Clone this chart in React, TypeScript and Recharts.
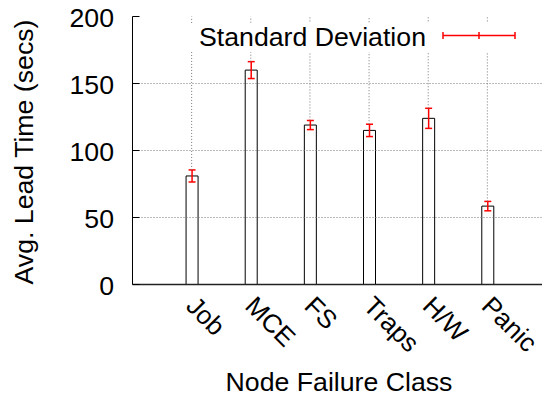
import React from 'react'
import { ComposedChart, Bar, ErrorBar, XAxis, YAxis, ReferenceLine, Legend } from 'recharts'

const categories = ['Job', 'MCE', 'FS', 'Traps', 'H/W', 'Panic']
const avgLeadTime = [81, 160, 119, 115, 124, 58.5]
const stdDeviation = [4.5, 6.3, 3.4, 4.6, 7.5, 3.5]
const yTicks = [0, 50, 100, 150, 200]

const FONT = '"Liberation Sans", Arial, Helvetica, sans-serif'
const FS = 26.7
const GRID = { stroke: '#777', strokeWidth: 1, strokeDasharray: '1 2' }
const X_MAX = 7
const Y_MAX = 200

const data = categories.map((name, i) => ({
  pos: i + 1,
  name,
  avg: avgLeadTime[i],
  sd: stdDeviation[i],
}))
const xTicks = data.map((d) => d.pos)
// inner grid rows; 0 and 200 sit on the frame
const gridRows = yTicks.slice(1, -1)

// y ticks point into the plot, labels sit to the left
const YTick = ({ x, y, payload }: any) => (
  <g>
    <line x1={x} y1={y} x2={x + 7} y2={y} stroke="#000" strokeWidth={1} />
    <text x={x - 18.5} y={y + 10.5} textAnchor="end" fontFamily={FONT} fontSize={FS} fill="#000">
      {payload.value}
    </text>
  </g>
)

// category names rotated 45 degrees under each bar
const XTick = ({ x, y, payload }: any) => {
  const ax = x - 7
  const ay = y + 23
  return (
    <text
      x={ax}
      y={ay}
      transform={`rotate(45 ${ax} ${ay})`}
      textAnchor="start"
      fontFamily={FONT}
      fontSize={26}
      fill="#000"
    >
      {categories[payload.value - 1]}
    </text>
  )
}

// mirrored ticks on the top border
const TopTick = ({ x, y }: any) => (
  <line x1={x} y1={y} x2={x} y2={y + 7} stroke="#000" strokeWidth={1} />
)

const XTitle = ({ viewBox }: any) => (
  <text
    x={viewBox.x + viewBox.width / 2 - 0.5}
    y={391}
    textAnchor="middle"
    fontFamily={FONT}
    fontSize={FS}
    fill="#000"
  >
    Node Failure Class
  </text>
)

const YTitle = ({ viewBox }: any) => {
  const cx = 33
  const cy = viewBox.y + viewBox.height / 2 + 1.5
  return (
    <text
      x={cx}
      y={cy}
      transform={`rotate(-90 ${cx} ${cy})`}
      textAnchor="middle"
      fontFamily={FONT}
      fontSize={FS}
      fill="#000"
    >
      Avg. Lead Time (secs)
    </text>
  )
}

const LegendBox = () => (
  <div style={{ position: 'relative', width: 400, height: 29, background: '#fff' }}>
    <span
      style={{
        position: 'absolute',
        right: 114,
        top: -1,
        fontFamily: FONT,
        fontSize: FS,
        lineHeight: '30px',
        whiteSpace: 'nowrap',
        color: '#000',
      }}
    >
      Standard Deviation
    </span>
    <svg width={80} height={20} style={{ position: 'absolute', left: 300, top: 3 }}>
      <g stroke="#ff0000" strokeWidth={1.5}>
        <line x1={3} y1={9.5} x2={75} y2={9.5} />
        <line x1={3} y1={6} x2={3} y2={13} />
        <line x1={39} y1={6} x2={39} y2={13} />
        <line x1={75} y1={6} x2={75} y2={13} />
      </g>
    </svg>
  </div>
)

export default function App() {
  return (
    <div
      style={{
        position: 'fixed',
        left: 0,
        top: 0,
        width: 542,
        height: 397,
        overflow: 'hidden',
        background: '#fff',
      }}
    >
      <ComposedChart
        width={547}
        height={397}
        data={data}
        margin={{ top: 16.5, right: 0.5, bottom: 0, left: 0.5 }}
      >
        <XAxis
          xAxisId="bottom"
          dataKey="pos"
          type="number"
          domain={[0, X_MAX]}
          ticks={xTicks}
          interval={0}
          height={112.5}
          tickSize={0}
          tickMargin={0}
          tickLine={false}
          axisLine={{ stroke: '#222', strokeWidth: 1.5 }}
          tick={<XTick />}
          label={<XTitle />}
        />
        <XAxis
          xAxisId="top"
          orientation="top"
          dataKey="pos"
          type="number"
          domain={[0, X_MAX]}
          ticks={xTicks}
          interval={0}
          height={0}
          tickSize={0}
          tickMargin={0}
          tickLine={false}
          axisLine={{ stroke: '#000', strokeWidth: 1 }}
          tick={<TopTick />}
        />
        <YAxis
          yAxisId="left"
          type="number"
          domain={[0, Y_MAX]}
          ticks={yTicks}
          interval={0}
          width={132}
          tickSize={0}
          tickMargin={0}
          tickLine={false}
          axisLine={{ stroke: '#000', strokeWidth: 1 }}
          tick={<YTick />}
          label={<YTitle />}
        />
        <Legend
          layout="horizontal"
          verticalAlign="middle"
          align="center"
          wrapperStyle={{ top: 23, left: 140, width: 400, height: 29 }}
          content={<LegendBox />}
        />
        <Bar
          xAxisId="bottom"
          yAxisId="left"
          dataKey="avg"
          name="Avg. Lead Time"
          barSize={12}
          fill="#fff"
          stroke="#000"
          strokeWidth={1}
          isAnimationActive={false}
        >
          <ErrorBar dataKey="sd" direction="y" width={3.5} stroke="#ff0000" strokeWidth={1.5} />
        </Bar>
        {/* dotted grid: full rows, columns above each error bar */}
        {gridRows.map((v) => (
          <ReferenceLine key={`r${v}`} xAxisId="bottom" yAxisId="left" y={v} {...GRID} />
        ))}
        {data.map((d) => (
          <ReferenceLine
            key={`c${d.pos}`}
            xAxisId="bottom"
            yAxisId="left"
            segment={[{ x: d.pos, y: d.avg + d.sd }, { x: d.pos, y: Y_MAX }]}
            {...GRID}
          />
        ))}
      </ComposedChart>
    </div>
  )
}
